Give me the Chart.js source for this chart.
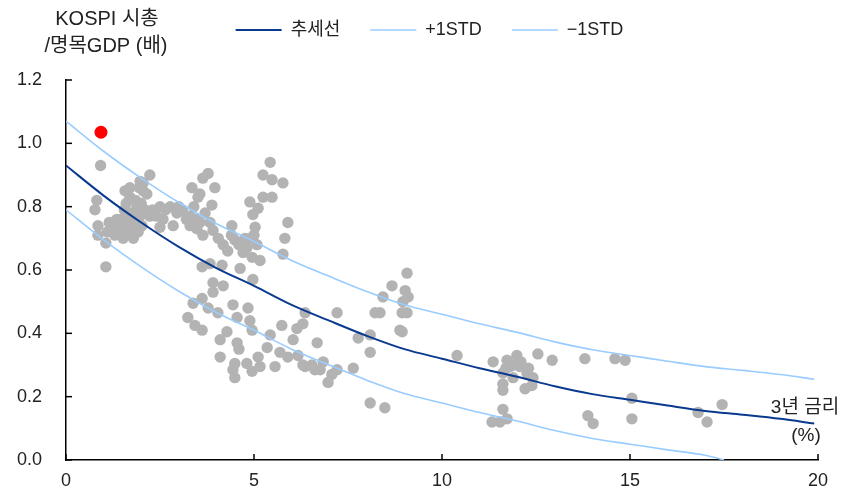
<!DOCTYPE html>
<html>
<head>
<meta charset="utf-8">
<script src="https://cdn.jsdelivr.net/npm/chart.js@4.4.1/dist/chart.umd.min.js"></script>
<style>
  html, body { margin: 0; padding: 0; background: #fff; }
  #wrap { width: 854px; height: 490px; }
</style>
</head>
<body>
<div id="wrap"><canvas id="scatterCanvas" width="854" height="490"></canvas></div>
<script>
// 3년 금리(%) vs KOSPI 시총/명목GDP(배)
const rateX = [
  0.92, 0.82, 0.77, 0.85, 0.85, 1.06, 1.06, 1.35, 1.44, 1.30, 1.62, 1.70, 1.92, 2.02, 1.97, 1.52, 1.79, 2.10,
  1.70, 2.05, 2.23, 2.15, 1.70, 1.89, 1.57, 2.50, 2.77, 2.95, 2.58, 2.85, 2.50, 2.23, 3.35, 3.64, 3.56, 3.30,
  3.48, 3.64, 3.62, 1.45, 1.60, 1.80, 1.25, 1.55, 1.85, 2.00, 1.75, 2.30, 2.65, 3.10, 3.20, 1.40, 1.65, 2.40,
  2.05, 1.95, 1.60, 3.00, 1.97, 1.15, 1.10,
  5.43, 5.24, 5.48, 5.77, 3.78, 3.96, 3.51, 3.88, 4.89, 5.24, 5.48, 5.11, 4.97, 3.30, 3.56, 3.83, 3.91, 4.41,
  5.03, 5.90, 5.82, 5.77, 4.76, 4.18, 4.49, 4.81, 4.71, 5.08, 5.16, 4.95, 4.63, 3.83, 4.15, 3.91, 4.18, 4.97,
  4.30, 4.60, 4.90, 4.40, 4.05, 5.00, 3.40, 3.70, 3.45,
  3.91, 3.62, 3.38, 3.78, 4.04, 3.24, 3.43, 3.62, 4.44, 4.84, 4.89, 4.55, 4.95, 4.28, 4.10, 4.55, 4.60, 4.10,
  5.74, 5.43, 6.14, 6.36, 6.04, 5.35, 5.11, 5.69, 5.90, 6.17, 4.49, 4.81, 5.16, 4.95, 4.44, 5.56, 4.49, 6.36,
  6.62, 6.68,
  9.07, 8.67, 9.02, 9.10, 8.43, 8.96, 8.22, 8.35, 8.94, 9.07, 8.88, 8.94, 7.21, 7.77, 8.09, 8.09, 6.30, 10.40,
  6.30, 6.54, 6.84, 6.76, 7.21, 7.07, 6.97, 7.64, 8.09, 8.48,
  11.36, 11.73, 11.99, 12.55, 12.93, 13.80, 14.60, 14.87, 11.81, 12.07, 11.62, 11.89, 12.26, 12.42, 12.39,
  12.21, 11.62, 11.62, 15.05, 11.62, 11.73, 11.33, 11.54, 13.88, 14.02, 15.05, 11.90, 12.10, 12.30, 11.70,
  16.81, 17.05, 17.45
];
const capRatio = [
  0.93, 0.82, 0.79, 0.74, 0.71, 0.685, 0.61, 0.76, 0.73, 0.71, 0.77, 0.73, 0.72, 0.74, 0.77, 0.70, 0.70, 0.79,
  0.86, 0.875, 0.90, 0.84, 0.83, 0.80, 0.85, 0.80, 0.80, 0.78, 0.76, 0.74, 0.735, 0.77, 0.86, 0.89, 0.84, 0.77,
  0.73, 0.71, 0.61, 0.76, 0.74, 0.75, 0.74, 0.79, 0.82, 0.81, 0.78, 0.79, 0.79, 0.79, 0.76, 0.72, 0.715, 0.77,
  0.85, 0.86, 0.81, 0.80, 0.88, 0.75, 0.72,
  0.94, 0.90, 0.885, 0.875, 0.905, 0.86, 0.83, 0.805, 0.815, 0.83, 0.83, 0.795, 0.775, 0.74, 0.75, 0.75, 0.725, 0.74,
  0.735, 0.75, 0.70, 0.65, 0.70, 0.68, 0.695, 0.67, 0.655, 0.68, 0.63, 0.64, 0.605, 0.62, 0.615, 0.56, 0.55, 0.57,
  0.66, 0.68, 0.70, 0.71, 0.70, 0.71, 0.80, 0.78, 0.76,
  0.53, 0.51, 0.495, 0.48, 0.465, 0.45, 0.425, 0.41, 0.49, 0.48, 0.44, 0.45, 0.41, 0.405, 0.38, 0.37, 0.35, 0.325,
  0.425, 0.395, 0.415, 0.465, 0.38, 0.355, 0.325, 0.34, 0.325, 0.33, 0.305, 0.305, 0.295, 0.28, 0.285, 0.295, 0.26, 0.295,
  0.285, 0.37,
  0.59, 0.55, 0.535, 0.515, 0.515, 0.50, 0.465, 0.465, 0.465, 0.465, 0.41, 0.405, 0.465, 0.385, 0.395, 0.34, 0.43, 0.33,
  0.30, 0.30, 0.31, 0.285, 0.285, 0.27, 0.245, 0.29, 0.18, 0.165,
  0.31, 0.315, 0.33, 0.335, 0.315, 0.32, 0.32, 0.315, 0.295, 0.295, 0.275, 0.26, 0.275, 0.26, 0.235,
  0.225, 0.24, 0.22, 0.195, 0.16, 0.13, 0.12, 0.12, 0.14, 0.115, 0.13, 0.30, 0.31, 0.29, 0.29,
  0.15, 0.12, 0.175
];

// 현재 위치
const nowRate = [0.93];
const nowRatio = [1.035];

// 추세선과 ±1STD 밴드
const curveX = [0, 1, 2, 3, 4, 5, 6, 7, 8, 9, 10, 11, 12, 13, 14, 15, 16, 17, 18, 19, 19.9];
const trendY = [0.93, 0.835, 0.75, 0.673, 0.606, 0.55, 0.49, 0.44, 0.392, 0.35, 0.32, 0.29, 0.263, 0.233, 0.208, 0.19, 0.172, 0.155, 0.143, 0.13, 0.115];
const upperY = [1.07, 0.975, 0.89, 0.813, 0.746, 0.69, 0.63, 0.58, 0.532, 0.49, 0.46, 0.43, 0.403, 0.373, 0.348, 0.33, 0.312, 0.295, 0.283, 0.27, 0.255];
const lowerX = [0, 1, 2, 3, 4, 5, 6, 7, 8, 9, 10, 11, 12, 13, 14, 15, 16, 17, 17.5];
const lowerY = [0.79, 0.695, 0.61, 0.533, 0.466, 0.41, 0.35, 0.30, 0.252, 0.21, 0.18, 0.15, 0.123, 0.093, 0.068, 0.05, 0.032, 0.015, 0.0];

const legendNames = ['추세선', '+1STD', '\u22121STD'];
const FONT = "'Liberation Sans', 'Noto Sans CJK KR', sans-serif";
const TEXT = '#222';

const toPoints = (xs, ys) => xs.map((x, i) => ({ x: x, y: ys[i] }));

// 축 안쪽 눈금 + 축 제목
const axisDecor = {
  id: 'axisDecor',
  afterDraw: (chart) => {
    const ctx = chart.ctx;
    const area = chart.chartArea;
    const xs = chart.scales.x;
    const ys = chart.scales.y;
    ctx.save();
    ctx.strokeStyle = '#000';
    ctx.lineWidth = 1.5;
    ys.ticks.forEach((t) => {
      const py = ys.getPixelForValue(t.value);
      ctx.beginPath();
      ctx.moveTo(area.left, py);
      ctx.lineTo(area.left + 6, py);
      ctx.stroke();
    });
    xs.ticks.forEach((t) => {
      const px = xs.getPixelForValue(t.value);
      ctx.beginPath();
      ctx.moveTo(px, area.bottom);
      ctx.lineTo(px, area.bottom - 6);
      ctx.stroke();
    });
    ctx.fillStyle = TEXT;
    ctx.textAlign = 'center';
    ctx.textBaseline = 'middle';
    ctx.font = '20px ' + FONT;
    ctx.fillText('KOSPI 시총', 107, 19);
    ctx.fillText('/명목GDP (배)', 106, 46);
    ctx.font = '19px ' + FONT;
    ctx.fillText('3년 금리', 805, 408);
    ctx.fillText('(%)', 806, 436);
    ctx.restore();
  }
};

// 범례 아래 여백과 위치 보정
const legendSpace = {
  id: 'legendSpace',
  beforeInit(chart) {
    const fitLegend = chart.legend.fit;
    chart.legend.fit = function () {
      fitLegend.call(this);
      this.height = 80;
    };
  },
  afterLayout(chart) {
    const lg = chart.legend;
    lg.top -= 9;
    lg.bottom -= 9;
    lg.left += 12;
    lg.right += 12;
  }
};

const ctx = document.getElementById('scatterCanvas').getContext('2d');
const chart = new Chart(ctx, {
  type: 'scatter',
  data: {
    datasets: [
      {
        label: 'data',
        data: toPoints(rateX, capRatio),
        backgroundColor: '#b3b3b3',
        borderWidth: 0,
        pointRadius: 5.7,
        order: 10
      },
      {
        label: 'now',
        data: toPoints(nowRate, nowRatio),
        backgroundColor: '#ff0000',
        borderWidth: 0,
        pointRadius: 6.5,
        order: 0
      },
      {
        label: legendNames[0],
        data: toPoints(curveX, trendY),
        showLine: true,
        borderColor: '#0a3a8f',
        borderWidth: 2,
        pointRadius: 0,
        cubicInterpolationMode: 'monotone',
        order: 1
      },
      {
        label: legendNames[1],
        data: toPoints(curveX, upperY),
        showLine: true,
        borderColor: '#99ccff',
        borderWidth: 1.6,
        pointRadius: 0,
        cubicInterpolationMode: 'monotone',
        order: 2
      },
      {
        label: legendNames[2],
        data: toPoints(lowerX, lowerY),
        showLine: true,
        borderColor: '#99ccff',
        borderWidth: 1.6,
        pointRadius: 0,
        cubicInterpolationMode: 'monotone',
        order: 3
      }
    ]
  },
  options: {
    responsive: false,
    animation: false,
    devicePixelRatio: 1,
    layout: {
      padding: { top: 0, left: 17, right: 36, bottom: 0 }
    },
    scales: {
      x: {
        type: 'linear',
        min: 0,
        max: 20,
        grid: { display: false, drawTicks: false },
        border: { display: true, color: '#000', width: 1.5 },
        ticks: {
          stepSize: 5,
          padding: 10,
          color: TEXT,
          font: { size: 18, family: FONT }
        },
        afterFit: (scale) => { scale.height = 30; }
      },
      y: {
        min: 0,
        max: 1.2,
        grid: { display: false, drawTicks: false },
        border: { display: true, color: '#000', width: 1.5 },
        ticks: {
          stepSize: 0.2,
          padding: 4,
          crossAlign: 'far',
          color: TEXT,
          font: { size: 18, family: FONT },
          callback: (v) => v.toFixed(1)
        },
        afterFit: (scale) => { scale.width = 49; }
      }
    },
    plugins: {
      tooltip: { enabled: false },
      legend: {
        position: 'top',
        labels: {
          usePointStyle: true,
          pointStyle: 'line',
          pointStyleWidth: 46,
          padding: 30,
          color: TEXT,
          font: { size: 18, family: FONT },
          filter: (item) => legendNames.includes(item.text)
        }
      }
    }
  },
  plugins: [axisDecor, legendSpace]
});
</script>
</body>
</html>
